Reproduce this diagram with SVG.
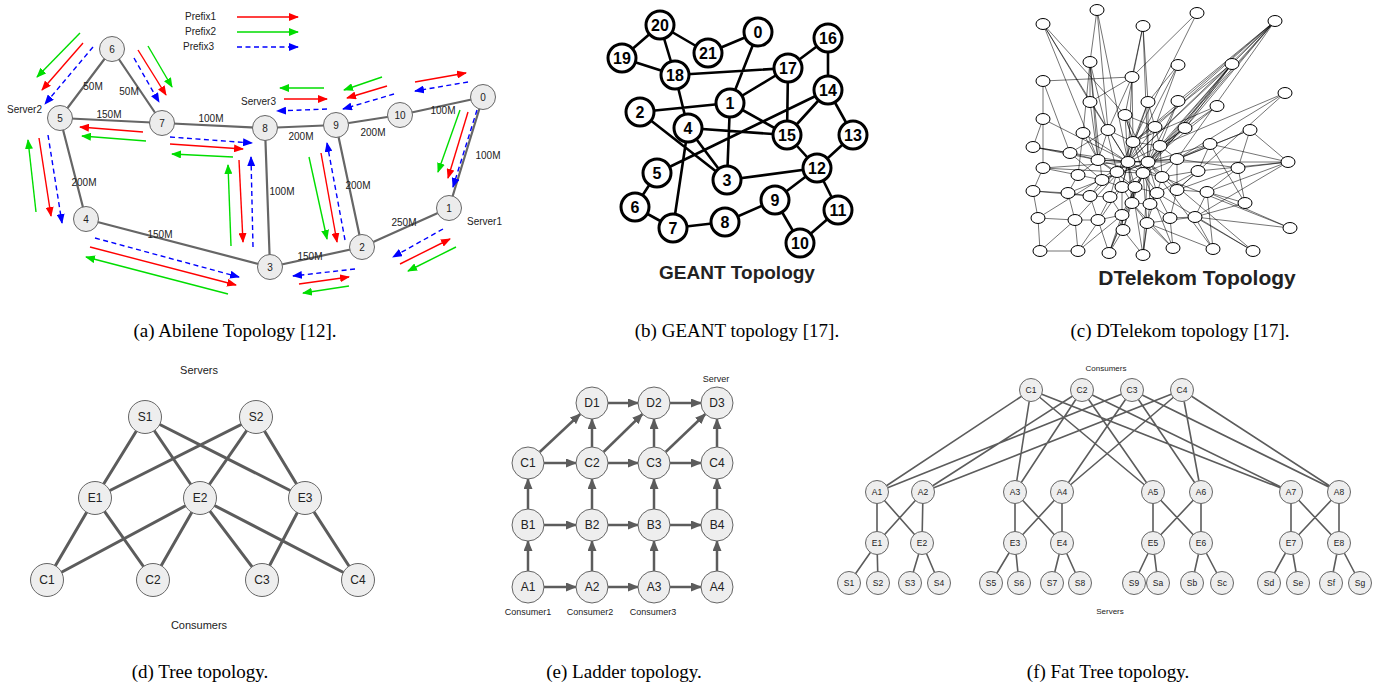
<svg xmlns="http://www.w3.org/2000/svg" width="1386" height="683" viewBox="0 0 1386 683">
<defs>
<style>
text{font-family:"Liberation Sans",Arial,sans-serif;fill:#222}
.cap{font-family:"Liberation Serif","Times New Roman",serif;font-size:19px;text-anchor:middle;fill:#000}
.ab circle{fill:#ececec;stroke:#666;stroke-width:1}
.ab text{font-size:10px;text-anchor:middle}
.lbl{font-size:10px;text-anchor:middle}
.abe{stroke:#666;stroke-width:2.2;fill:none}
.r{stroke:#f00;stroke-width:1.4;fill:none;marker-end:url(#mr)}
.g{stroke:#0d0;stroke-width:1.4;fill:none;marker-end:url(#mg)}
.b{stroke:#00f;stroke-width:1.4;fill:none;stroke-dasharray:5 3.5;marker-end:url(#mb)}
.ge circle{fill:#fff;stroke:#000;stroke-width:3}
.ge text{font-size:16px;font-weight:bold;text-anchor:middle;fill:#000}
.gee{stroke:#000;stroke-width:2.6;fill:none}
.dt ellipse{fill:#fff;stroke:#000;stroke-width:1}
.dte{stroke:#000;stroke-width:0.55;fill:none}
.tr circle{fill:#eee;stroke:#666;stroke-width:1}
.tr text{font-size:12px;text-anchor:middle}
.tre{stroke:#5c5c5c;stroke-width:3;fill:none}
.ld circle{fill:#eee;stroke:#666;stroke-width:1}
.ld text{font-size:12px;text-anchor:middle}
.lde{stroke:#5c5c5c;stroke-width:2.5;fill:none;marker-end:url(#ma)}
.ft circle{fill:#eee;stroke:#666;stroke-width:1}
.ft text{font-size:8.5px;text-anchor:middle}
.fte{stroke:#5c5c5c;stroke-width:1.6;fill:none}
.sm{font-size:9px;text-anchor:middle}
</style>
<marker id="mr" markerUnits="userSpaceOnUse" markerWidth="10" markerHeight="8" refX="9" refY="4" orient="auto"><path d="M0,0L10,4L0,8z" fill="#f00"/></marker>
<marker id="mg" markerUnits="userSpaceOnUse" markerWidth="10" markerHeight="8" refX="9" refY="4" orient="auto"><path d="M0,0L10,4L0,8z" fill="#0d0"/></marker>
<marker id="mb" markerUnits="userSpaceOnUse" markerWidth="10" markerHeight="8" refX="9" refY="4" orient="auto"><path d="M0,0L10,4L0,8z" fill="#00f"/></marker>
<marker id="ma" markerUnits="userSpaceOnUse" markerWidth="11" markerHeight="9" refX="10" refY="4.5" orient="auto"><path d="M0,0L11,4.5L0,9z" fill="#5c5c5c"/></marker>
</defs>
<rect width="1386" height="683" fill="#fff"/>

<!-- (a) Abilene -->
<g id="abilene-edges">
<path class="abe" d="M112 49L60 118M112 49L162 123M60 118L162 123M162 123L265 128M265 128L336 125M336 125L400 115M400 115L483 97M483 97L449 208M449 208L362 247M362 247L336 125M362 247L270 267M270 267L265 128M270 267L86 219M86 219L60 118"/>
</g>
<g id="abilene-arrows">
<line x1="237" y1="17" x2="298" y2="17" class="r"/>
<line x1="237" y1="32" x2="298" y2="32" class="g"/>
<line x1="237" y1="47" x2="298" y2="47" class="b"/>
<line x1="80" y1="33" x2="37" y2="77" class="g"/>
<line x1="148" y1="46" x2="172" y2="87" class="g"/>
<line x1="146" y1="141" x2="82" y2="136" class="g"/>
<line x1="233" y1="157" x2="172" y2="154" class="g"/>
<line x1="231" y1="246" x2="228" y2="165" class="g"/>
<line x1="309" y1="157" x2="327" y2="239" class="g"/>
<line x1="349" y1="286" x2="303" y2="293" class="g"/>
<line x1="228" y1="294" x2="86" y2="257" class="g"/>
<line x1="36" y1="212" x2="28" y2="140" class="g"/>
<line x1="324" y1="88" x2="280" y2="88" class="g"/>
<line x1="382" y1="77" x2="344" y2="90" class="g"/>
<line x1="460" y1="110" x2="438" y2="172" class="g"/>
<line x1="456" y1="247" x2="408" y2="271" class="g"/>
<line x1="83" y1="43" x2="42" y2="90" class="r"/>
<line x1="138" y1="50" x2="166" y2="95" class="r"/>
<line x1="143" y1="132" x2="80" y2="127" class="r"/>
<line x1="170" y1="144" x2="243" y2="149" class="r"/>
<line x1="239" y1="160" x2="243" y2="242" class="r"/>
<line x1="321" y1="153" x2="337" y2="242" class="r"/>
<line x1="299" y1="284" x2="349" y2="277" class="r"/>
<line x1="90" y1="247" x2="236" y2="285" class="r"/>
<line x1="39" y1="138" x2="51" y2="216" class="r"/>
<line x1="284" y1="99" x2="327" y2="99" class="r"/>
<line x1="387" y1="86" x2="347" y2="98" class="r"/>
<line x1="415" y1="82" x2="466" y2="73" class="r"/>
<line x1="468" y1="112" x2="448" y2="178" class="r"/>
<line x1="400" y1="264" x2="450" y2="239" class="r"/>
<line x1="93" y1="47" x2="45" y2="104" class="b"/>
<line x1="134" y1="58" x2="159" y2="102" class="b"/>
<line x1="170" y1="137" x2="252" y2="143" class="b"/>
<line x1="253" y1="247" x2="251" y2="157" class="b"/>
<line x1="345" y1="240" x2="327" y2="143" class="b"/>
<line x1="355" y1="269" x2="293" y2="276" class="b"/>
<line x1="95" y1="238" x2="239" y2="277" class="b"/>
<line x1="48" y1="135" x2="62" y2="223" class="b"/>
<line x1="327" y1="109" x2="277" y2="111" class="b"/>
<line x1="394" y1="94" x2="343" y2="109" class="b"/>
<line x1="468" y1="82" x2="415" y2="91" class="b"/>
<line x1="477" y1="110" x2="453" y2="187" class="b"/>
<line x1="443" y1="229" x2="393" y2="257" class="b"/>
</g>
<g id="abilene-labels">
<text x="185" y="20" font-size="10">Prefix1</text>
<text x="185" y="35" font-size="10">Prefix2</text>
<text x="183" y="50" font-size="10">Prefix3</text>
<text x="7" y="113" font-size="10">Server2</text>
<text x="241" y="105" font-size="10">Server3</text>
<text x="467" y="225" font-size="10">Server1</text>
<text class="lbl" x="93" y="90">50M</text>
<text class="lbl" x="129" y="95">50M</text>
<text class="lbl" x="109" y="118">150M</text>
<text class="lbl" x="211" y="122">100M</text>
<text class="lbl" x="84" y="186">200M</text>
<text class="lbl" x="160" y="238">150M</text>
<text class="lbl" x="282" y="195">100M</text>
<text class="lbl" x="301" y="140">200M</text>
<text class="lbl" x="373" y="136">200M</text>
<text class="lbl" x="443" y="114">100M</text>
<text class="lbl" x="358" y="189">200M</text>
<text class="lbl" x="404" y="226">250M</text>
<text class="lbl" x="310" y="260">150M</text>
<text class="lbl" x="488" y="159">100M</text>
</g>
<g class="ab">
<g id="ab6"><circle cx="112" cy="49" r="12.5"/><text x="112" y="53">6</text></g>
<g id="ab5"><circle cx="60" cy="118" r="12.5"/><text x="60" y="122">5</text></g>
<g id="ab7"><circle cx="162" cy="123" r="12.5"/><text x="162" y="127">7</text></g>
<g id="ab8"><circle cx="265" cy="128" r="12.5"/><text x="265" y="132">8</text></g>
<g id="ab9"><circle cx="336" cy="125" r="12.5"/><text x="336" y="129">9</text></g>
<g id="ab10"><circle cx="400" cy="115" r="12.5"/><text x="400" y="119">10</text></g>
<g id="ab0"><circle cx="483" cy="97" r="12.5"/><text x="483" y="101">0</text></g>
<g id="ab1"><circle cx="449" cy="208" r="12.5"/><text x="449" y="212">1</text></g>
<g id="ab2"><circle cx="362" cy="247" r="12.5"/><text x="362" y="251">2</text></g>
<g id="ab3"><circle cx="270" cy="267" r="12.5"/><text x="270" y="271">3</text></g>
<g id="ab4"><circle cx="86" cy="219" r="12.5"/><text x="86" y="223">4</text></g>
</g>

<!-- (b) GEANT -->
<g id="geant-edges">
<path class="gee" d="M660 25L622 58M660 25L708 53M660 25L675 75M622 58L675 75M708 53L758 32M758 32L730 103M675 75L788 68M675 75L688 128M788 68L828 38M788 68L730 103M788 68L787 135M828 38L828 90M828 90L853 135M828 90L787 135M828 90L657 173M730 103L640 112M730 103L787 135M730 103L727 180M688 128L787 135M688 128L727 180M688 128L673 228M640 112L727 180M787 135L817 168M853 135L817 168M817 168L727 180M817 168L775 200M817 168L838 210M838 210L800 243M775 200L800 243M775 200L725 222M725 222L673 228M673 228L635 207M635 207L657 173"/>
</g>
<g class="ge">
<g id="g20"><circle cx="660" cy="25" r="14"/><text x="660" y="31">20</text></g>
<g id="g21"><circle cx="708" cy="53" r="14"/><text x="708" y="59">21</text></g>
<g id="g0"><circle cx="758" cy="32" r="14"/><text x="758" y="38">0</text></g>
<g id="g19"><circle cx="622" cy="58" r="14"/><text x="622" y="64">19</text></g>
<g id="g18"><circle cx="675" cy="75" r="14"/><text x="675" y="81">18</text></g>
<g id="g17"><circle cx="788" cy="68" r="14"/><text x="788" y="74">17</text></g>
<g id="g16"><circle cx="828" cy="38" r="14"/><text x="828" y="44">16</text></g>
<g id="g14"><circle cx="828" cy="90" r="14"/><text x="828" y="96">14</text></g>
<g id="g1"><circle cx="730" cy="103" r="14"/><text x="730" y="109">1</text></g>
<g id="g2"><circle cx="640" cy="112" r="14"/><text x="640" y="118">2</text></g>
<g id="g4"><circle cx="688" cy="128" r="14"/><text x="688" y="134">4</text></g>
<g id="g15"><circle cx="787" cy="135" r="14"/><text x="787" y="141">15</text></g>
<g id="g13"><circle cx="853" cy="135" r="14"/><text x="853" y="141">13</text></g>
<g id="g5"><circle cx="657" cy="173" r="14"/><text x="657" y="179">5</text></g>
<g id="g3"><circle cx="727" cy="180" r="14"/><text x="727" y="186">3</text></g>
<g id="g12"><circle cx="817" cy="168" r="14"/><text x="817" y="174">12</text></g>
<g id="g6"><circle cx="635" cy="207" r="14"/><text x="635" y="213">6</text></g>
<g id="g7"><circle cx="673" cy="228" r="14"/><text x="673" y="234">7</text></g>
<g id="g8"><circle cx="725" cy="222" r="14"/><text x="725" y="228">8</text></g>
<g id="g9"><circle cx="775" cy="200" r="14"/><text x="775" y="206">9</text></g>
<g id="g11"><circle cx="838" cy="210" r="14"/><text x="838" y="216">11</text></g>
<g id="g10"><circle cx="800" cy="243" r="14"/><text x="800" y="249">10</text></g>
</g>
<text x="737" y="279" font-size="19" font-weight="bold" text-anchor="middle" fill="#000">GEANT Topology</text>

<!-- (c) DTelekom -->
<g id="dtelekom-edges">
<path class="dte" d="M1043 24L1090 102M1043 24L1098 160M1043 24L1128 162M1043 24L1125 115M1097 10L1090 62M1097 10L1108 130M1097 10L1128 162M1143 26L1148 102M1143 26L1125 115M1143 26L1148 162M1143 26L1132 77M1197 13L1132 77M1197 13L1133 142M1275 21L1232 64M1275 21L1133 142M1275 21L1148 162M1275 21L1128 162M1275 21L1143 173M1275 21L1155 127M1275 21L1185 128M1275 21L1177 159M1275 21L1178 101M1090 62L1090 102M1090 62L1098 160M1090 62L1083 133M1090 62L1102 180M1090 62L1117 172M1178 65L1148 102M1178 65L1155 127M1178 65L1128 162M1232 64L1128 162M1232 64L1148 162M1232 64L1133 142M1232 64L1135 187M1232 64L1143 173M1232 64L1160 146M1232 64L1185 128M1043 81L1132 77M1043 81L1043 119M1043 81L1070 153M1132 77L1128 162M1132 77L1108 130M1132 77L1090 102M1285 93L1177 159M1285 93L1160 146M1285 93L1177 190M1090 102L1108 130M1090 102L1098 160M1148 102L1155 127M1148 102L1128 162M1178 101L1148 162M1178 101L1160 146M1217 106L1160 146M1217 106L1148 162M1217 106L1133 142M1043 119L1033 147M1043 119L1043 168M1043 119L1128 162M1108 130L1098 160M1108 130L1070 153M1155 127L1160 146M1185 128L1148 162M1185 128L1160 146M1250 130L1177 159M1250 130L1143 173M1250 130L1238 168M1083 133L1078 175M1083 133L1098 160M1083 133L1128 162M1033 147L1070 153M1033 147L1098 160M1033 147L1128 162M1070 153L1098 160M1070 153L1102 180M1160 146L1177 159M1160 146L1162 177M1210 144L1177 159M1210 144L1148 162M1210 144L1198 171M1210 144L1245 203M1177 159L1162 177M1177 159L1177 190M1177 159L1238 168M1198 171L1162 177M1198 171L1157 193M1198 171L1177 190M1198 171L1288 162M1238 168L1288 162M1238 168L1177 190M1238 168L1207 192M1238 168L1245 203M1288 162L1207 192M1288 162L1210 144M1288 162L1250 130M1288 162L1148 162M1288 162L1195 217M1043 168L1078 175M1043 168L1033 191M1043 168L1117 172M1043 168L1128 162M1078 175L1102 180M1078 175L1098 160M1078 175L1068 193M1162 177L1157 193M1162 177L1177 190M1102 180L1090 196M1102 180L1122 187M1102 180L1148 162M1033 191L1068 193M1033 191L1038 218M1033 191L1090 196M1068 193L1090 196M1068 193L1148 162M1068 193L1075 220M1090 196L1110 197M1090 196L1098 220M1090 196L1128 162M1110 197L1122 215M1110 197L1098 220M1157 193L1147 223M1157 193L1170 218M1157 193L1150 204M1177 190L1207 192M1177 190L1170 218M1207 192L1245 203M1207 192L1195 217M1207 192L1290 228M1207 192L1213 249M1132 203L1147 223M1132 203L1123 230M1132 203L1150 204M1150 204L1170 218M1150 204L1143 255M1245 203L1195 217M1038 218L1040 251M1038 218L1075 220M1038 218L1128 162M1075 220L1098 220M1075 220L1078 251M1075 220L1128 162M1098 220L1109 253M1098 220L1122 215M1122 215L1123 230M1122 215L1109 253M1147 223L1143 255M1147 223L1173 248M1147 223L1195 217M1170 218L1173 248M1170 218L1195 217M1195 217L1213 249M1195 217L1290 228M1195 217L1253 251M1123 230L1109 253M1123 230L1143 255M1290 228L1162 177M1040 251L1075 220M1040 251L1078 251M1078 251L1122 187M1078 251L1122 215M1109 253L1135 187M1109 253L1148 162M1143 255L1148 162M1143 255L1128 162M1173 248L1143 173M1173 248L1132 203M1213 249L1148 162M1213 249L1147 223M1253 251L1148 162M1253 251L1157 193M1128 162L1148 162M1128 162L1133 142M1128 162L1143 173M1128 162L1135 187M1128 162L1122 187M1128 162L1117 172M1128 162L1155 127M1128 162L1160 146M1128 162L1132 203M1128 162L1125 115M1128 162L1108 130M1128 162L1098 160M1128 162L1162 177M1128 162L1177 159M1148 162L1133 142M1148 162L1143 173M1148 162L1135 187M1148 162L1155 127M1148 162L1160 146M1148 162L1162 177M1148 162L1150 204M1148 162L1157 193M1148 162L1177 159M1148 162L1125 115M1148 162L1148 102M1133 142L1125 115M1133 142L1108 130M1133 142L1155 127M1133 142L1117 172M1133 142L1122 187M1133 142L1160 146M1133 142L1148 102M1133 142L1132 77M1143 173L1122 187M1143 173L1135 187M1143 173L1132 203M1143 173L1162 177M1143 173L1117 172M1143 173L1157 193M1143 173L1147 223M1135 187L1132 203M1135 187L1122 187M1135 187L1122 215M1135 187L1123 230M1135 187L1157 193M1117 172L1102 180M1117 172L1098 160M1117 172L1122 187M1117 172L1110 197M1122 187L1110 197M1122 187L1122 215M1122 187L1132 203M1098 160L1148 162M1098 160L1143 173M1098 160L1135 187M1125 115L1155 127M1125 115L1143 173"/>
</g>
<g class="dt" id="dtelekom-nodes">
<ellipse cx="1043" cy="24" rx="7" ry="5.5"/><ellipse cx="1097" cy="10" rx="7" ry="5.5"/><ellipse cx="1143" cy="26" rx="7" ry="5.5"/><ellipse cx="1197" cy="13" rx="7" ry="5.5"/><ellipse cx="1275" cy="21" rx="7" ry="5.5"/>
<ellipse cx="1090" cy="62" rx="7" ry="5.5"/><ellipse cx="1178" cy="65" rx="7" ry="5.5"/><ellipse cx="1232" cy="64" rx="7" ry="5.5"/><ellipse cx="1043" cy="81" rx="7" ry="5.5"/><ellipse cx="1132" cy="77" rx="7" ry="5.5"/>
<ellipse cx="1285" cy="93" rx="7" ry="5.5"/><ellipse cx="1090" cy="102" rx="7" ry="5.5"/><ellipse cx="1148" cy="102" rx="7" ry="5.5"/><ellipse cx="1178" cy="101" rx="7" ry="5.5"/><ellipse cx="1217" cy="106" rx="7" ry="5.5"/>
<ellipse cx="1043" cy="119" rx="7" ry="5.5"/><ellipse cx="1125" cy="115" rx="7" ry="5.5"/><ellipse cx="1108" cy="130" rx="7" ry="5.5"/><ellipse cx="1155" cy="127" rx="7" ry="5.5"/><ellipse cx="1185" cy="128" rx="7" ry="5.5"/>
<ellipse cx="1250" cy="130" rx="7" ry="5.5"/><ellipse cx="1083" cy="133" rx="7" ry="5.5"/><ellipse cx="1033" cy="147" rx="7" ry="5.5"/><ellipse cx="1070" cy="153" rx="7" ry="5.5"/><ellipse cx="1133" cy="142" rx="7" ry="5.5"/>
<ellipse cx="1160" cy="146" rx="7" ry="5.5"/><ellipse cx="1210" cy="144" rx="7" ry="5.5"/><ellipse cx="1098" cy="160" rx="7" ry="5.5"/><ellipse cx="1128" cy="162" rx="7" ry="5.5"/><ellipse cx="1148" cy="162" rx="7" ry="5.5"/>
<ellipse cx="1177" cy="159" rx="7" ry="5.5"/><ellipse cx="1198" cy="171" rx="7" ry="5.5"/><ellipse cx="1238" cy="168" rx="7" ry="5.5"/><ellipse cx="1288" cy="162" rx="7" ry="5.5"/><ellipse cx="1043" cy="168" rx="7" ry="5.5"/>
<ellipse cx="1078" cy="175" rx="7" ry="5.5"/><ellipse cx="1117" cy="172" rx="7" ry="5.5"/><ellipse cx="1143" cy="173" rx="7" ry="5.5"/><ellipse cx="1162" cy="177" rx="7" ry="5.5"/><ellipse cx="1102" cy="180" rx="7" ry="5.5"/>
<ellipse cx="1122" cy="187" rx="7" ry="5.5"/><ellipse cx="1135" cy="187" rx="7" ry="5.5"/><ellipse cx="1033" cy="191" rx="7" ry="5.5"/><ellipse cx="1068" cy="193" rx="7" ry="5.5"/><ellipse cx="1090" cy="196" rx="7" ry="5.5"/>
<ellipse cx="1110" cy="197" rx="7" ry="5.5"/><ellipse cx="1157" cy="193" rx="7" ry="5.5"/><ellipse cx="1177" cy="190" rx="7" ry="5.5"/><ellipse cx="1207" cy="192" rx="7" ry="5.5"/><ellipse cx="1132" cy="203" rx="7" ry="5.5"/>
<ellipse cx="1150" cy="204" rx="7" ry="5.5"/><ellipse cx="1245" cy="203" rx="7" ry="5.5"/><ellipse cx="1038" cy="218" rx="7" ry="5.5"/><ellipse cx="1075" cy="220" rx="7" ry="5.5"/><ellipse cx="1098" cy="220" rx="7" ry="5.5"/>
<ellipse cx="1122" cy="215" rx="7" ry="5.5"/><ellipse cx="1147" cy="223" rx="7" ry="5.5"/><ellipse cx="1170" cy="218" rx="7" ry="5.5"/><ellipse cx="1195" cy="217" rx="7" ry="5.5"/><ellipse cx="1123" cy="230" rx="7" ry="5.5"/>
<ellipse cx="1290" cy="228" rx="7" ry="5.5"/><ellipse cx="1040" cy="251" rx="7" ry="5.5"/><ellipse cx="1078" cy="251" rx="7" ry="5.5"/><ellipse cx="1109" cy="253" rx="7" ry="5.5"/><ellipse cx="1143" cy="255" rx="7" ry="5.5"/>
<ellipse cx="1173" cy="248" rx="7" ry="5.5"/><ellipse cx="1213" cy="249" rx="7" ry="5.5"/><ellipse cx="1253" cy="251" rx="7" ry="5.5"/>
</g>
<text x="1197" y="285" font-size="21" font-weight="bold" text-anchor="middle" fill="#000">DTelekom Topology</text>

<!-- captions row 1 -->
<text class="cap" x="235" y="337">(a) Abilene Topology [12].</text>
<text class="cap" x="737" y="337">(b) GEANT topology [17].</text>
<text class="cap" x="1180" y="337">(c) DTelekom topology [17].</text>

<!-- (d) Tree -->
<g id="tree-edges">
<path class="tre" d="M145 417L95 498M145 417L200 498M145 417L305 498M256 417L95 498M256 417L200 498M256 417L305 498M95 498L47 580M95 498L153 580M200 498L47 580M200 498L153 580M200 498L262 580M200 498L358 580M305 498L262 580M305 498L358 580"/>
</g>
<g class="tr">
<g id="tS1"><circle cx="145" cy="417" r="16.5"/><text x="145" y="421">S1</text></g>
<g id="tS2"><circle cx="256" cy="417" r="16.5"/><text x="256" y="421">S2</text></g>
<g id="tE1"><circle cx="95" cy="498" r="16.5"/><text x="95" y="502">E1</text></g>
<g id="tE2"><circle cx="200" cy="498" r="16.5"/><text x="200" y="502">E2</text></g>
<g id="tE3"><circle cx="305" cy="498" r="16.5"/><text x="305" y="502">E3</text></g>
<g id="tC1"><circle cx="47" cy="580" r="16.5"/><text x="47" y="584">C1</text></g>
<g id="tC2"><circle cx="153" cy="580" r="16.5"/><text x="153" y="584">C2</text></g>
<g id="tC3"><circle cx="262" cy="580" r="16.5"/><text x="262" y="584">C3</text></g>
<g id="tC4"><circle cx="358" cy="580" r="16.5"/><text x="358" y="584">C4</text></g>
</g>
<text x="199" y="374" font-size="11" text-anchor="middle">Servers</text>
<text x="199" y="629" font-size="11" text-anchor="middle">Consumers</text>

<!-- (e) Ladder -->
<g id="ladder-edges">
<line class="lde" x1="544" y1="587" x2="576" y2="587"/>
<line class="lde" x1="608" y1="587" x2="638" y2="587"/>
<line class="lde" x1="670" y1="587" x2="701" y2="587"/>
<line class="lde" x1="544" y1="525" x2="576" y2="525"/>
<line class="lde" x1="608" y1="525" x2="638" y2="525"/>
<line class="lde" x1="670" y1="525" x2="701" y2="525"/>
<line class="lde" x1="544" y1="463" x2="576" y2="463"/>
<line class="lde" x1="608" y1="463" x2="638" y2="463"/>
<line class="lde" x1="670" y1="463" x2="701" y2="463"/>
<line class="lde" x1="608" y1="403" x2="638" y2="403"/>
<line class="lde" x1="670" y1="403" x2="701" y2="403"/>
<line class="lde" x1="528" y1="571" x2="528" y2="541"/>
<line class="lde" x1="592" y1="571" x2="592" y2="541"/>
<line class="lde" x1="654" y1="571" x2="654" y2="541"/>
<line class="lde" x1="717" y1="571" x2="717" y2="541"/>
<line class="lde" x1="528" y1="509" x2="528" y2="479"/>
<line class="lde" x1="592" y1="509" x2="592" y2="479"/>
<line class="lde" x1="654" y1="509" x2="654" y2="479"/>
<line class="lde" x1="717" y1="509" x2="717" y2="479"/>
<line class="lde" x1="592" y1="447" x2="592" y2="419"/>
<line class="lde" x1="654" y1="447" x2="654" y2="419"/>
<line class="lde" x1="717" y1="447" x2="717" y2="419"/>
<line class="lde" x1="539.7" y1="452" x2="580.3" y2="414"/>
<line class="lde" x1="603.5" y1="452" x2="642.5" y2="414"/>
<line class="lde" x1="665.6" y1="452" x2="705.4" y2="414"/>
</g>
<g class="ld">
<g id="lD1"><circle cx="592" cy="403" r="16"/><text x="592" y="407">D1</text></g>
<g id="lD2"><circle cx="654" cy="403" r="16"/><text x="654" y="407">D2</text></g>
<g id="lD3"><circle cx="717" cy="403" r="16"/><text x="717" y="407">D3</text></g>
<g id="lC1"><circle cx="528" cy="463" r="16"/><text x="528" y="467">C1</text></g>
<g id="lC2"><circle cx="592" cy="463" r="16"/><text x="592" y="467">C2</text></g>
<g id="lC3"><circle cx="654" cy="463" r="16"/><text x="654" y="467">C3</text></g>
<g id="lC4"><circle cx="717" cy="463" r="16"/><text x="717" y="467">C4</text></g>
<g id="lB1"><circle cx="528" cy="525" r="16"/><text x="528" y="529">B1</text></g>
<g id="lB2"><circle cx="592" cy="525" r="16"/><text x="592" y="529">B2</text></g>
<g id="lB3"><circle cx="654" cy="525" r="16"/><text x="654" y="529">B3</text></g>
<g id="lB4"><circle cx="717" cy="525" r="16"/><text x="717" y="529">B4</text></g>
<g id="lA1"><circle cx="528" cy="587" r="16"/><text x="528" y="591">A1</text></g>
<g id="lA2"><circle cx="592" cy="587" r="16"/><text x="592" y="591">A2</text></g>
<g id="lA3"><circle cx="654" cy="587" r="16"/><text x="654" y="591">A3</text></g>
<g id="lA4"><circle cx="717" cy="587" r="16"/><text x="717" y="591">A4</text></g>
</g>
<text class="sm" x="716" y="382">Server</text>
<text class="sm" x="528" y="615">Consumer1</text>
<text class="sm" x="590" y="615">Consumer2</text>
<text class="sm" x="653" y="615">Consumer3</text>

<!-- (f) Fat Tree -->
<g id="fattree-edges">
<path class="fte" d="M1031 390L877 492M1031 390L1015 492M1031 390L1153 492M1031 390L1291 492M1082 390L923 492M1082 390L1015 492M1082 390L1153 492M1082 390L1291 492M1132 390L877 492M1132 390L1062 492M1132 390L1201 492M1132 390L1339 492M1182 390L923 492M1182 390L1062 492M1182 390L1201 492M1182 390L1339 492
M877 492L877 543M877 492L922 543M923 492L877 543M923 492L922 543M1015 492L1015 543M1015 492L1062 543M1062 492L1015 543M1062 492L1062 543M1153 492L1153 543M1153 492L1201 543M1201 492L1153 543M1201 492L1201 543M1291 492L1291 543M1291 492L1339 543M1339 492L1291 543M1339 492L1339 543
M877 543L849 583M877 543L878 583M922 543L910 583M922 543L939 583M1015 543L991 583M1015 543L1019 583M1062 543L1052 583M1062 543L1080 583M1153 543L1134 583M1153 543L1158 583M1201 543L1192 583M1201 543L1222 583M1291 543L1269 583M1291 543L1298 583M1339 543L1331 583M1339 543L1360 583"/>
</g>
<g class="ft">
<g id="fC1"><circle cx="1031" cy="390" r="11.5"/><text x="1031" y="393">C1</text></g>
<g id="fC2"><circle cx="1082" cy="390" r="11.5"/><text x="1082" y="393">C2</text></g>
<g id="fC3"><circle cx="1132" cy="390" r="11.5"/><text x="1132" y="393">C3</text></g>
<g id="fC4"><circle cx="1182" cy="390" r="11.5"/><text x="1182" y="393">C4</text></g>
<g id="fA1"><circle cx="877" cy="492" r="11.5"/><text x="877" y="495">A1</text></g>
<g id="fA2"><circle cx="923" cy="492" r="11.5"/><text x="923" y="495">A2</text></g>
<g id="fA3"><circle cx="1015" cy="492" r="11.5"/><text x="1015" y="495">A3</text></g>
<g id="fA4"><circle cx="1062" cy="492" r="11.5"/><text x="1062" y="495">A4</text></g>
<g id="fA5"><circle cx="1153" cy="492" r="11.5"/><text x="1153" y="495">A5</text></g>
<g id="fA6"><circle cx="1201" cy="492" r="11.5"/><text x="1201" y="495">A6</text></g>
<g id="fA7"><circle cx="1291" cy="492" r="11.5"/><text x="1291" y="495">A7</text></g>
<g id="fA8"><circle cx="1339" cy="492" r="11.5"/><text x="1339" y="495">A8</text></g>
<g id="fE1"><circle cx="877" cy="543" r="11.5"/><text x="877" y="546">E1</text></g>
<g id="fE2"><circle cx="922" cy="543" r="11.5"/><text x="922" y="546">E2</text></g>
<g id="fE3"><circle cx="1015" cy="543" r="11.5"/><text x="1015" y="546">E3</text></g>
<g id="fE4"><circle cx="1062" cy="543" r="11.5"/><text x="1062" y="546">E4</text></g>
<g id="fE5"><circle cx="1153" cy="543" r="11.5"/><text x="1153" y="546">E5</text></g>
<g id="fE6"><circle cx="1201" cy="543" r="11.5"/><text x="1201" y="546">E6</text></g>
<g id="fE7"><circle cx="1291" cy="543" r="11.5"/><text x="1291" y="546">E7</text></g>
<g id="fE8"><circle cx="1339" cy="543" r="11.5"/><text x="1339" y="546">E8</text></g>
<g id="fS1"><circle cx="849" cy="583" r="11.5"/><text x="849" y="586">S1</text></g>
<g id="fS2"><circle cx="878" cy="583" r="11.5"/><text x="878" y="586">S2</text></g>
<g id="fS3"><circle cx="910" cy="583" r="11.5"/><text x="910" y="586">S3</text></g>
<g id="fS4"><circle cx="939" cy="583" r="11.5"/><text x="939" y="586">S4</text></g>
<g id="fS5"><circle cx="991" cy="583" r="11.5"/><text x="991" y="586">S5</text></g>
<g id="fS6"><circle cx="1019" cy="583" r="11.5"/><text x="1019" y="586">S6</text></g>
<g id="fS7"><circle cx="1052" cy="583" r="11.5"/><text x="1052" y="586">S7</text></g>
<g id="fS8"><circle cx="1080" cy="583" r="11.5"/><text x="1080" y="586">S8</text></g>
<g id="fS9"><circle cx="1134" cy="583" r="11.5"/><text x="1134" y="586">S9</text></g>
<g id="fSa"><circle cx="1158" cy="583" r="11.5"/><text x="1158" y="586">Sa</text></g>
<g id="fSb"><circle cx="1192" cy="583" r="11.5"/><text x="1192" y="586">Sb</text></g>
<g id="fSc"><circle cx="1222" cy="583" r="11.5"/><text x="1222" y="586">Sc</text></g>
<g id="fSd"><circle cx="1269" cy="583" r="11.5"/><text x="1269" y="586">Sd</text></g>
<g id="fSe"><circle cx="1298" cy="583" r="11.5"/><text x="1298" y="586">Se</text></g>
<g id="fSf"><circle cx="1331" cy="583" r="11.5"/><text x="1331" y="586">Sf</text></g>
<g id="fSg"><circle cx="1360" cy="583" r="11.5"/><text x="1360" y="586">Sg</text></g>
</g>
<text x="1106" y="371" font-size="8" text-anchor="middle">Consumers</text>
<text x="1110" y="614" font-size="8" text-anchor="middle">Servers</text>

<!-- captions row 2 -->
<text class="cap" x="200" y="678">(d) Tree topology.</text>
<text class="cap" x="624" y="678">(e) Ladder topology.</text>
<text class="cap" x="1108" y="678">(f) Fat Tree topology.</text>
</svg>
